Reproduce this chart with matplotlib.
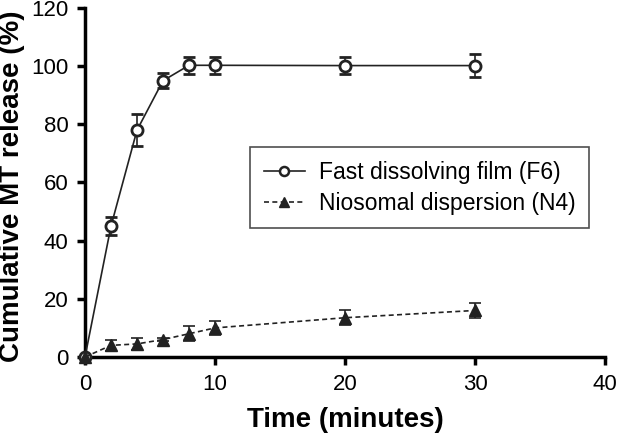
import matplotlib
matplotlib.use("Agg")
import matplotlib.pyplot as plt
from matplotlib.lines import Line2D

time = [0, 2, 4, 6, 8, 10, 20, 30]
f6 = [0, 45, 78, 95, 100.3, 100.3, 100.2, 100.2]
f6_err = [0.5, 3, 5.5, 2.5, 3, 3, 3, 4]
n4 = [0, 4, 4.5, 6, 8, 10, 13.5, 16]
n4_err = [0.5, 2, 2, 0.5, 2.5, 2.5, 2.5, 2.5]
labels = ['Fast dissolving film (F6)', 'Niosomal dispersion (N4)']

plt.rcParams['font.family'] = ['Liberation Sans', 'DejaVu Sans']
fig = plt.figure(figsize=(6.19, 4.36), dpi=100)
ax = fig.add_axes([85 / 619, 79 / 436, 520 / 619, 349 / 436])

c = '#222222'
ax.errorbar(time, f6, yerr=f6_err, color=c, marker='o', ms=8, mfc='white',
            mew=2, lw=1.2, capsize=4, elinewidth=1.2, capthick=1.2,
            clip_on=False, zorder=3)
ax.errorbar(time, n4, yerr=n4_err, color=c, marker='^', ms=8.5, mfc=c,
            lw=1.2, ls=(0, (3, 2)), capsize=4, elinewidth=1.2, capthick=1.2,
            clip_on=False, zorder=3)

ax.set_xlim(0, 40)
ax.set_ylim(0, 120)
ax.set_xticks([0, 10, 20, 30, 40])
ax.set_yticks([0, 20, 40, 60, 80, 100, 120])
for s in ['top', 'right']:
    ax.spines[s].set_visible(False)
for s in ['left', 'bottom']:
    ax.spines[s].set_linewidth(2.5)
ax.tick_params(width=2.5, length=6, labelsize=16, direction='out', pad=6)
ax.set_xlabel('Time (minutes)', fontsize=20, fontweight='bold', labelpad=9)
ax.set_ylabel('Cumulative MT release (%)', fontsize=20, fontweight='bold')
ax.yaxis.set_label_coords(-0.115, 0.49)

handles = [Line2D([], [], color=c, marker='o', ms=6.5, mfc='white', mew=1.8, lw=1.2),
           Line2D([], [], color=c, marker='^', ms=6.5, mfc=c, lw=1.2, ls=(0, (3, 2)))]
leg = ax.legend(handles, labels, loc='upper left', bbox_to_anchor=(0.317, 0.602),
                fontsize=16.5, frameon=True, fancybox=False, edgecolor=c,
                handlelength=1.8, handletextpad=0.6, borderpad=0.6, labelspacing=0.35,
                borderaxespad=0)
leg.get_frame().set_linewidth(1.2)

fig.savefig('out.png', dpi=100)
